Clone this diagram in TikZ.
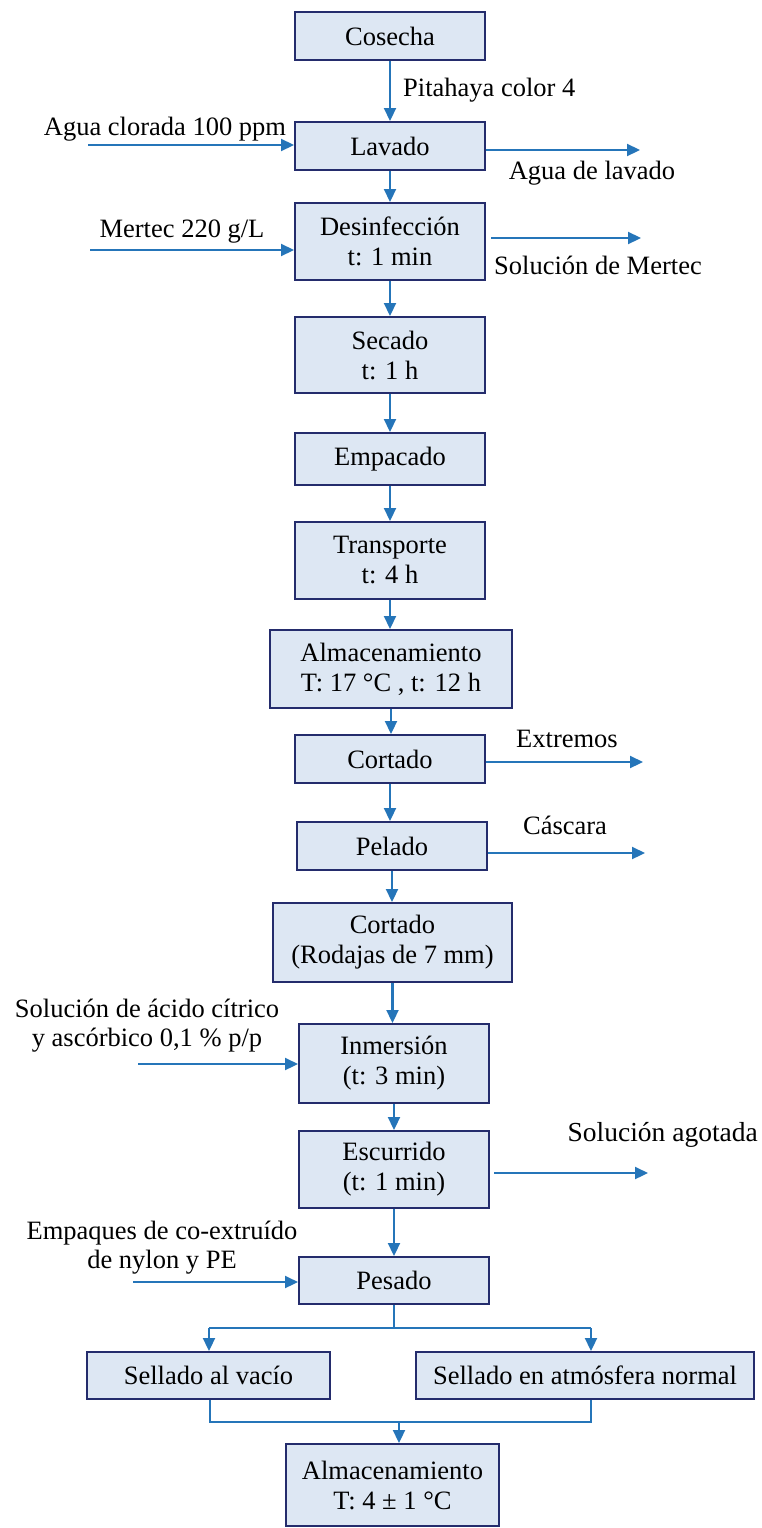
\documentclass[tikz,border=0pt]{standalone}
\usepackage{fontspec}
\setmainfont{Liberation Serif}
\usetikzlibrary{arrows.meta}
\definecolor{boxfill}{RGB}{221,231,243}
\definecolor{boxline}{RGB}{36,44,108}
\definecolor{flow}{RGB}{37,117,185}
\begin{document}
\begin{tikzpicture}[x=1pt,y=-1pt,
  box/.style={draw=boxline, fill=boxfill, line width=2pt, align=center, inner sep=0pt, font=\fontsize{26.5}{30}\selectfont},
  lbl/.style={align=center, inner sep=0pt, font=\fontsize{26.5}{29}\selectfont},
  flowline/.style={draw=flow, line width=2.2pt},
  arr/.style={flowline, -{Triangle[length=13pt,width=12pt]}}]
\useasboundingbox[fill=white] (0,0) rectangle (761,1528);

% process boxes
\node[box, minimum width=190pt, minimum height=48pt] (cos) at (390,36) {Cosecha};
\node[box, minimum width=190pt, minimum height=48pt] (lav) at (390,146) {Lavado};
\node[box, minimum width=190pt, minimum height=77pt] (des) at (390,241.5) {Desinfección\\t: 1 min};
\node[box, minimum width=190pt, minimum height=76pt] (sec) at (390,355) {Secado\\t: 1 h};
\node[box, minimum width=190pt, minimum height=52pt] (emp) at (390,459) {Empacado};
\node[box, minimum width=190pt, minimum height=77pt] (tra) at (390,560.5) {Transporte\\t: 4 h};
\node[box, minimum width=242pt, minimum height=78pt] (alm) at (391,669) {Almacenamiento\\T: 17 °C , t: 12 h};
\node[box, minimum width=190pt, minimum height=48pt] (cor) at (390,759) {Cortado};
\node[box, minimum width=190pt, minimum height=48pt] (pel) at (392,846) {Pelado};
\node[box, minimum width=239pt, minimum height=79pt] (cor2) at (392.5,942.5) {Cortado\\(Rodajas de 7 mm)};
\node[box, minimum width=190pt, minimum height=79pt] (inm) at (394,1063.5) {Inmersión\\(t: 3 min)};
\node[box, minimum width=190pt, minimum height=77pt] (esc) at (394,1169.5) {Escurrido\\(t: 1 min)};
\node[box, minimum width=190pt, minimum height=47pt] (pes) at (394,1280.5) {Pesado};
\node[box, minimum width=243pt, minimum height=47pt] (sv) at (208.5,1375.5) {Sellado al vacío};
\node[box, minimum width=338pt, minimum height=47pt] (sa) at (585,1375.5) {Sellado en atmósfera normal};
\node[box, minimum width=213pt, minimum height=82pt] (alm2) at (392.5,1485) {Almacenamiento\\T: 4 ± 1 °C};

% main flow
\draw[arr] (cos.south) -- (cos.south |- lav.north);
\draw[arr] (lav.south) -- (lav.south |- des.north);
\draw[arr] (des.south) -- (des.south |- sec.north);
\draw[arr] (sec.south) -- (sec.south |- emp.north);
\draw[arr] (emp.south) -- (emp.south |- tra.north);
\draw[arr] (tra.south) -- (tra.south |- alm.north);
\draw[arr] (alm.south) -- (alm.south |- cor.north);
\draw[arr] (cor.south) -- (cor.south |- pel.north);
\draw[arr] (pel.south) -- (pel.south |- cor2.north);
\draw[arr] (cor2.south) -- (cor2.south |- inm.north);
\draw[arr] (inm.south) -- (inm.south |- esc.north);
\draw[arr] (esc.south) -- (esc.south |- pes.north);

% labels
\node[lbl, anchor=west] (pit) at (403,90) {Pitahaya color 4};
\node[lbl] (l1) at (165,129) {Agua clorada 100 ppm};
\node[lbl] (l2) at (592,173) {Agua de lavado};
\node[lbl] (l3) at (182,232) {Mertec 220 g/L};
\node[lbl] (l4) at (598,265) {Solución de Mertec};
\node[lbl] (l5) at (567,739) {Extremos};
\node[lbl] (l6) at (565,825) {Cáscara};
\node[lbl] (l7) at (147,1026) {Solución de ácido cítrico\\y ascórbico 0,1 \% p/p};
\node[lbl, anchor=east, font=\fontsize{27.5}{30}\selectfont] (l8) at (758,1135) {Solución agotada};
\node[lbl] (l9) at (162,1248) {Empaques de co-extruído\\de nylon y PE};

% inputs
\coordinate (i1) at (88,145);
\coordinate (i2) at (90,250);
\coordinate (i3) at (138,1064);
\coordinate (i4) at (133,1282);
\draw[arr] (i1) -- (i1 -| lav.west);
\draw[arr] (i2) -- (i2 -| des.west);
\draw[arr] (i3) -- (i3 -| inm.west);
\draw[arr] (i4) -- (i4 -| pes.west);

% outputs
\coordinate (o1) at (640,150);
\coordinate (o2) at (641,238);
\coordinate (o3) at (643,762);
\coordinate (o4) at (645,853);
\coordinate (o5) at (648,1173);
\draw[arr] (o1 -| lav.east) -- (o1);
\draw[arr] ([xshift=5pt]o2 -| des.east) -- (o2);
\draw[arr] (o3 -| cor.east) -- (o3);
\draw[arr] (o4 -| pel.east) -- (o4);
\draw[arr] ([xshift=4pt]o5 -| esc.east) -- (o5);

% branch
\coordinate (bl) at (209,1328);
\coordinate (br) at (591,1328);
\draw[flowline] (pes.south) -- (pes.south |- bl);
\draw[flowline] (bl) -- (br);
\draw[arr] (bl) -- (bl |- sv.north);
\draw[arr] (br) -- (br |- sa.north);

% join
\coordinate (jl) at (210,1422);
\coordinate (jr) at (591,1422);
\coordinate (jm) at (399,1422);
\draw[flowline] (jl |- sv.south) -- (jl) -- (jr) -- (jr |- sa.south);
\draw[arr] (jm) -- (jm |- alm2.north);
\end{tikzpicture}
\end{document}
